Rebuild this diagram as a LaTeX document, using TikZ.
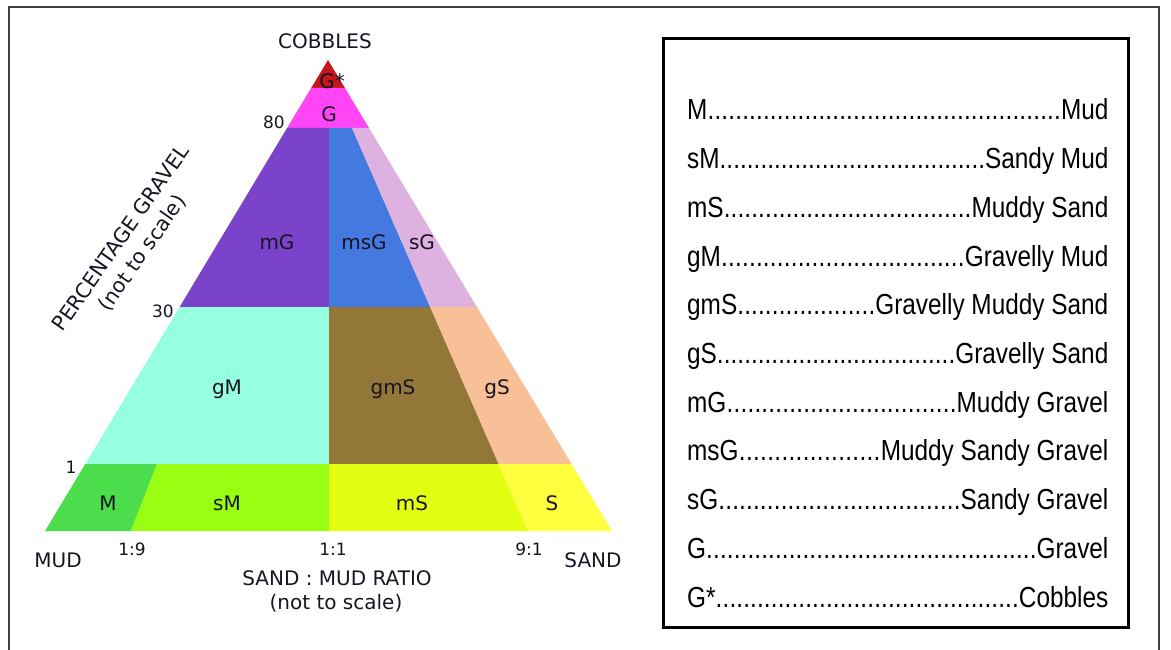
\documentclass[tikz,border=0pt]{standalone}
\usepackage{fontspec}
\setmainfont{DejaVu Sans}
\newfontfamily\legfont[FakeStretch=0.84]{Liberation Sans}
\newcommand\legdots{\xleaders\hbox to 6.8pt{\hss.\hss}\hfill}
\definecolor{cGstar}{RGB}{196,22,28}
\definecolor{cG}{RGB}{255,69,245}
\definecolor{cmG}{RGB}{123,67,201}
\definecolor{cmsG}{RGB}{68,121,224}
\definecolor{csG}{RGB}{221,178,224}
\definecolor{cgM}{RGB}{150,255,224}
\definecolor{cgmS}{RGB}{146,119,56}
\definecolor{cgS}{RGB}{248,192,150}
\definecolor{cM}{RGB}{76,221,76}
\definecolor{csM}{RGB}{153,255,18}
\definecolor{cmS}{RGB}{226,255,18}
\definecolor{cS}{RGB}{255,255,64}
\definecolor{txt}{RGB}{25,20,35}
\tikzset{
  zone/.style={inner sep=0pt, anchor=base, text=txt, font=\fontsize{20}{24}\selectfont},
  axis/.style={inner sep=0pt, anchor=base, text=txt, font=\fontsize{20}{24}\selectfont},
  tick/.style={inner sep=0pt, anchor=base, text=txt, font=\fontsize{17}{20}\selectfont},
  legrow/.style={inner sep=0pt, anchor=base west, font=\legfont\fontsize{29}{34}\selectfont},
}
\begin{document}
\begin{tikzpicture}[x=1pt,y=-1pt]
\useasboundingbox (0,0) rectangle (1171,650);
\fill[white] (0,0) rectangle (1171,650);
% outer frame
\draw[line width=2pt, black!75] (9,7) rectangle (1159,670);
% regions
\fill[cGstar] (328,60) -- (344.9,88) -- (311.2,88) -- cycle;
\fill[cG] (311.2,88) -- (344.9,88) -- (369,128) -- (287.1,128) -- cycle;
\fill[cmG] (287.1,128) -- (329,128) -- (329,307) -- (179.6,307) -- cycle;
\fill[cmsG] (329,128) -- (352,128) -- (430.2,307) -- (329,307) -- cycle;
\fill[csG] (352,128) -- (369,128) -- (476.9,307) -- (430.2,307) -- cycle;
\fill[cgM] (179.6,307) -- (329,307) -- (329,464) -- (85.3,464) -- cycle;
\fill[cgmS] (329,307) -- (430.2,307) -- (498.7,464) -- (329,464) -- cycle;
\fill[cgS] (430.2,307) -- (476.9,307) -- (571.6,464) -- (498.7,464) -- cycle;
\fill[cM] (85.3,464) -- (157,464) -- (131,531) -- (45,531) -- cycle;
\fill[csM] (157,464) -- (329,464) -- (329,531) -- (131,531) -- cycle;
\fill[cmS] (329,464) -- (498.7,464) -- (528,531) -- (329,531) -- cycle;
\fill[cS] (498.7,464) -- (571.6,464) -- (612,531) -- (528,531) -- cycle;
% zone labels
\node[zone] (lGstar) at (332,89) {G*};
\node[zone] (lG) at (329,122) {G};
\node[zone] (lmG) at (277,249) {mG};
\node[zone] (lmsG) at (364,249) {msG};
\node[zone] (lsG) at (422,249) {sG};
\node[zone] (lgM) at (227,394) {gM};
\node[zone] (lgmS) at (393,394) {gmS};
\node[zone] (lgS) at (497,394) {gS};
\node[zone] (lM) at (108,510) {M};
\node[zone] (lsM) at (227,510) {sM};
\node[zone] (lmS) at (412,510) {mS};
\node[zone] (lS) at (552,510) {S};
% axis labels
\node[axis] (cob) at (325,49) {COBBLES};
\node[axis] (mud) at (58,567) {MUD};
\node[axis] (sand) at (593,567) {SAND};
\node[axis] (ratio) at (337,585) {SAND : MUD RATIO};
\node[axis] (ratio2) at (336,609) {(not to scale)};
\node[inner sep=0pt, text=txt, align=center, rotate=55, font=\fontsize{20.5}{26}\selectfont] (grav) at (132,246) {PERCENTAGE GRAVEL\\(not to scale)};
% ticks
\node[tick] (t80) at (274,129) {80};
\node[tick] (t30) at (163,317) {30};
\node[tick] (t1) at (71,473) {1};
\node[tick] (t19) at (132,555) {1:9};
\node[tick] (t11) at (333,555) {1:1};
\node[tick] (t91) at (529,555) {9:1};
% legend box
\draw[line width=3pt, black] (663,39) rectangle (1128,627);
\node[legrow] (r1) at (687,120.0) {\makebox[421pt]{M\legdots Mud}};
\node[legrow] (r2) at (687,168.7) {\makebox[421pt]{sM\legdots Sandy Mud}};
\node[legrow] (r3) at (687,217.4) {\makebox[421pt]{mS\legdots Muddy Sand}};
\node[legrow] (r4) at (687,266.1) {\makebox[421pt]{gM\legdots Gravelly Mud}};
\node[legrow] (r5) at (687,314.8) {\makebox[421pt]{gmS\legdots Gravelly Muddy Sand}};
\node[legrow] (r6) at (687,363.5) {\makebox[421pt]{gS\legdots Gravelly Sand}};
\node[legrow] (r7) at (687,412.2) {\makebox[421pt]{mG\legdots Muddy Gravel}};
\node[legrow] (r8) at (687,460.9) {\makebox[421pt]{msG\legdots Muddy Sandy Gravel}};
\node[legrow] (r9) at (687,509.6) {\makebox[421pt]{sG\legdots Sandy Gravel}};
\node[legrow] (r10) at (687,558.3) {\makebox[421pt]{G\legdots Gravel}};
\node[legrow] (r11) at (687,607.0) {\makebox[421pt]{G*\legdots Cobbles}};
\end{tikzpicture}
\end{document}
